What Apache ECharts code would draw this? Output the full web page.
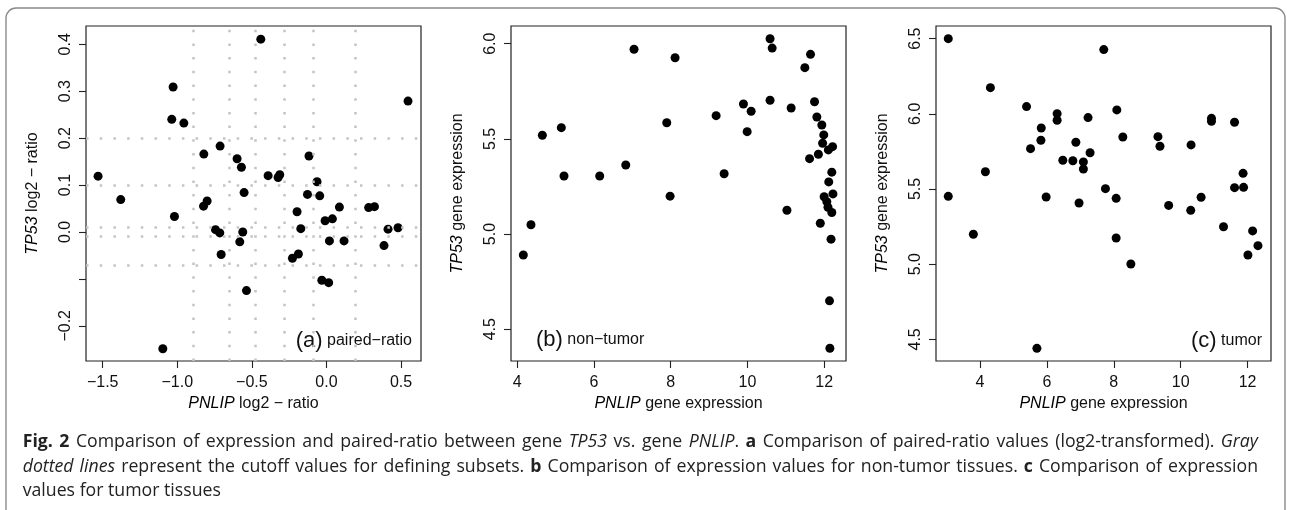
<!DOCTYPE html>
<html>
<head>
<meta charset="utf-8">
<script src="https://cdn.jsdelivr.net/npm/echarts@6/dist/echarts.min.js"></script>
<style>
html,body{margin:0;padding:0;background:#fff;}
#chart{width:1292px;height:510px;}
</style>
</head>
<body>
<div id="chart"></div>
<script>
// ---- Panel (a): paired-ratio (log2) ----
var aX = [-0.44, -1.028, 0.547, -1.037, -0.956, -0.713, -0.822, -0.599, -0.570, -0.117, -1.531, -0.391, -0.324, -0.313, -0.063, -0.552, -0.127, -0.045, -1.379, -0.800, -0.824, -1.019, 0.087, -0.197, 0.283, 0.322, -0.009, 0.040, -0.744, -0.715, -0.561, -0.172, 0.413, 0.480, -0.581, 0.020, 0.118, 0.386, -0.706, -0.228, -0.188, -0.031, 0.015, -0.536, -1.097];
var aY = [0.411, 0.309, 0.279, 0.240, 0.232, 0.183, 0.166, 0.156, 0.138, 0.162, 0.119, 0.120, 0.116, 0.122, 0.107, 0.084, 0.080, 0.077, 0.069, 0.066, 0.055, 0.033, 0.053, 0.043, 0.052, 0.054, 0.024, 0.028, 0.005, -0.002, 0.000, 0.007, 0.006, 0.009, -0.021, -0.019, -0.019, -0.029, -0.048, -0.056, -0.047, -0.103, -0.108, -0.125, -0.249];
var aVCut = [-0.889, -0.648, -0.478, -0.277, -0.085, 0.194];
var aHCut = [0.2, 0.1, 0.015, -0.015, -0.075];
var aXTicks = [-1.5, -1.0, -0.5, 0.0, 0.5];
var aYTicks = [-0.2, -0.1, 0.0, 0.1, 0.2, 0.3, 0.4];
var aYLabels = [-0.2, 0.0, 0.1, 0.2, 0.3, 0.4];
var aXRange = [-1.612, 0.634];
var aYRange = [-0.275, 0.439];

// ---- Panel (b): non-tumor expression ----
var bX = [10.59, 10.645, 7.044, 8.114, 11.645, 11.497, 10.59, 11.75, 9.896, 10.097, 11.14, 9.184, 11.81, 5.148, 7.897, 11.94, 4.653, 11.99, 9.993, 11.96, 12.11, 12.22, 11.85, 11.62, 6.828, 5.218, 6.149, 9.393, 12.20, 12.12, 7.984, 12.23, 12.00, 12.07, 12.10, 12.20, 11.03, 11.90, 4.357, 12.18, 4.157, 12.14, 12.15];
var bY = [6.026, 5.977, 5.971, 5.926, 5.944, 5.874, 5.703, 5.695, 5.683, 5.645, 5.662, 5.622, 5.615, 5.559, 5.585, 5.573, 5.519, 5.521, 5.538, 5.477, 5.442, 5.459, 5.419, 5.396, 5.363, 5.305, 5.305, 5.317, 5.325, 5.274, 5.199, 5.211, 5.196, 5.170, 5.141, 5.113, 5.125, 5.057, 5.049, 4.973, 4.890, 4.649, 4.400];
var bXTicks = [4, 6, 8, 10, 12];
var bYTicks = [4.5, 5.0, 5.5, 6.0];
var bXRange = [3.836, 12.57];
var bYRange = [4.333, 6.093];

// ---- Panel (c): tumor expression ----
var cX = [3.05, 7.70, 4.31, 5.39, 8.09, 6.305, 6.305, 7.23, 10.92, 10.92, 11.61, 5.83, 8.27, 9.32, 9.38, 5.82, 6.865, 10.31, 5.51, 7.29, 6.475, 6.775, 7.09, 7.09, 4.16, 11.865, 7.75, 11.61, 11.88, 3.05, 5.976, 8.07, 6.96, 10.61, 9.64, 10.30, 3.80, 8.07, 11.28, 12.15, 12.31, 12.01, 8.51, 5.70];
var cY = [6.50, 6.427, 6.174, 6.048, 6.026, 6.001, 5.957, 5.975, 5.970, 5.950, 5.944, 5.906, 5.846, 5.848, 5.784, 5.824, 5.811, 5.793, 5.768, 5.741, 5.691, 5.688, 5.680, 5.633, 5.615, 5.604, 5.502, 5.509, 5.511, 5.451, 5.447, 5.438, 5.407, 5.445, 5.391, 5.358, 5.199, 5.174, 5.249, 5.221, 5.123, 5.061, 5.001, 4.440];
var cXTicks = [4, 6, 8, 10, 12];
var cYTicks = [4.5, 5.0, 5.5, 6.0, 6.5];
var cXRange = [2.683, 12.70];
var cYRange = [4.356, 6.584];

// ---- Texts ----
var panelLabels = [['(a)', 'paired\u2212ratio'], ['(b)', 'non\u2212tumor'], ['(c)', 'tumor']];
var xNames = ['{i|PNLIP} log2 \u2212 ratio', '{i|PNLIP} gene expression', '{i|PNLIP} gene expression'];
var yNames = ['{i|TP53} log2 \u2212 ratio', '{i|TP53} gene expression', '{i|TP53} gene expression'];
var captionLines = [
  '{b|Fig. 2} Comparison of expression and paired-ratio between gene {i|TP53} vs. gene {i|PNLIP}. {b|a} Comparison of paired-ratio values (log2-transformed). {i|Gray}',
  '{i|dotted lines} represent the cutoff values for defining subsets. {b|b} Comparison of expression values for non-tumor tissues. {b|c} Comparison of expression',
  'values for tumor tissues'
];
var captionJustify = [true, true, false];

var FONT = '"Liberation Sans", Arial, Helvetica, sans-serif';
var CAPFONT = '"Open Sans", Lato, sans-serif';
var CAPSIZE = 17.7;
var CAP_X0 = 22.7, CAP_X1 = 1258, CAP_Y0 = 442, CAP_DY = 24.5;

function zip(xs, ys) { return xs.map(function (x, i) { return [x, ys[i]]; }); }
function fmt1(v) { return Number(v).toFixed(1).replace('-', '\u2212'); }
function fmt0(v) { return String(Math.round(v)); }

var grids = [
  {left: 86, top: 26, width: 335, height: 335},
  {left: 511, top: 26, width: 335, height: 335},
  {left: 936, top: 26, width: 335, height: 335}
].map(function (g) {
  return Object.assign(g, {show: true, borderColor: '#222', borderWidth: 1.2, backgroundColor: 'transparent'});
});

var nameRich = {
  i: {fontStyle: 'italic', fontSize: 16, fontFamily: FONT, color: '#000'}
};

function xAxisCfg(idx, range, ticks, labels, fmt, name) {
  return {
    gridIndex: idx, type: 'value', min: range[0], max: range[1], position: 'bottom',
    axisLine: {show: false, onZero: false},
    axisTick: {show: true, inside: false, length: 7, lineStyle: {color: '#222', width: 1.1}, customValues: ticks},
    axisLabel: {customValues: labels, formatter: fmt, fontSize: 16, fontFamily: FONT, color: '#111', margin: 14},
    splitLine: {show: false},
    name: name, nameLocation: 'middle', nameGap: 35,
    nameTextStyle: {fontSize: 16, fontFamily: FONT, color: '#111', rich: nameRich}
  };
}
function yAxisCfg(idx, range, ticks, labels, fmt, name) {
  return {
    gridIndex: idx, type: 'value', min: range[0], max: range[1], position: 'left',
    axisLine: {show: false, onZero: false},
    axisTick: {show: true, inside: false, length: 7, lineStyle: {color: '#222', width: 1.1}, customValues: ticks},
    axisLabel: {customValues: labels, formatter: fmt, rotate: 90, fontSize: 16, fontFamily: FONT, color: '#111', margin: 12},
    splitLine: {show: false},
    name: name, nameLocation: 'middle', nameRotate: 90, nameGap: 45,
    nameTextStyle: {fontSize: 16, fontFamily: FONT, color: '#111', rich: nameRich}
  };
}

var dotStyle = {color: '#000', opacity: 1};

var cutData = aVCut.map(function (v) { return {xAxis: v}; }).concat(aHCut.map(function (v) { return {yAxis: v}; }));

function panelLabel(k, x, y, align) {
  return {type: 'text', silent: true, x: x, y: y,
    style: {text: '{p|' + panelLabels[k][0] + '}{t| ' + panelLabels[k][1] + '}', align: align, verticalAlign: 'middle',
      rich: {p: {fontSize: 22, fontFamily: FONT, fill: '#111'}, t: {fontSize: 16, fontFamily: FONT, fill: '#111'}}}};
}

// ---- caption layout (justified like the journal page) ----
var mctx = document.createElement('canvas').getContext('2d');
function capFont(st) {
  return (st === 'i' ? 'italic ' : 'normal ') + (st === 'b' ? 'bold ' : 'normal ') + CAPSIZE + 'px ' + CAPFONT;
}
function measure(t, st) { mctx.font = capFont(st); return mctx.measureText(t).width; }
function parseLine(line) {
  var re = /\{(\w)\|([^}]*)\}|([^{]+)/g, m, segs = [];
  while ((m = re.exec(line))) {
    if (m[1]) segs.push({t: m[2], s: m[1]}); else segs.push({t: m[3], s: 'n'});
  }
  return segs;
}
function toWords(segs) {
  var ws = [[]];
  segs.forEach(function (sg) {
    sg.t.split(' ').forEach(function (p, i) {
      if (i > 0) ws.push([]);
      if (p) ws[ws.length - 1].push({t: p, s: sg.s});
    });
  });
  return ws.filter(function (w) { return w.length; });
}
function captionElements() {
  var els = [];
  var space = measure(' ', 'n');
  captionLines.forEach(function (line, k) {
    var words = toWords(parseLine(line));
    var widths = words.map(function (w) { return w.reduce(function (a, p) { return a + measure(p.t, p.s); }, 0); });
    var total = widths.reduce(function (a, b) { return a + b; }, 0);
    var gap = captionJustify[k] ? Math.max(space * 0.8, (CAP_X1 - CAP_X0 - total) / (words.length - 1)) : space;
    var x = CAP_X0, y = CAP_Y0 + k * CAP_DY;
    words.forEach(function (w, wi) {
      var px = x;
      w.forEach(function (p) {
        els.push({type: 'text', silent: true, x: px, y: y,
          style: {text: p.t, align: 'left', verticalAlign: 'middle', fontSize: CAPSIZE, fontFamily: CAPFONT,
            fontStyle: p.s === 'i' ? 'italic' : 'normal', fontWeight: p.s === 'b' ? 'bold' : 'normal', fill: '#222'}});
        px += measure(p.t, p.s);
      });
      x += widths[wi] + gap;
    });
  });
  return els;
}

var option = {
  backgroundColor: '#fff',
  animation: false,
  grid: grids,
  xAxis: [
    xAxisCfg(0, aXRange, aXTicks, aXTicks, fmt1, xNames[0]),
    xAxisCfg(1, bXRange, bXTicks, bXTicks, fmt0, xNames[1]),
    xAxisCfg(2, cXRange, cXTicks, cXTicks, fmt0, xNames[2])
  ],
  yAxis: [
    yAxisCfg(0, aYRange, aYTicks, aYLabels, fmt1, yNames[0]),
    yAxisCfg(1, bYRange, bYTicks, bYTicks, fmt1, yNames[1]),
    yAxisCfg(2, cYRange, cYTicks, cYTicks, fmt1, yNames[2])
  ],
  series: [
    {
      type: 'scatter', xAxisIndex: 0, yAxisIndex: 0, data: zip(aX, aY),
      symbol: 'circle', symbolSize: 9, itemStyle: dotStyle, silent: true,
      markLine: {
        silent: true, symbol: ['none', 'none'], label: {show: false},
        lineStyle: {color: '#c4c4c4', width: 2.5, type: [2.5, 11.2], opacity: 1},
        emphasis: {disabled: true},
        data: cutData
      }
    },
    {type: 'scatter', xAxisIndex: 1, yAxisIndex: 1, data: zip(bX, bY), symbol: 'circle', symbolSize: 9, itemStyle: dotStyle, silent: true},
    {type: 'scatter', xAxisIndex: 2, yAxisIndex: 2, data: zip(cX, cY), symbol: 'circle', symbolSize: 9, itemStyle: dotStyle, silent: true}
  ],
  graphic: [
    {type: 'rect', silent: true, shape: {x: 6, y: 8, width: 1279, height: 560, r: [10, 10, 0, 0]},
     style: {fill: 'none', stroke: '#8a8a8a', lineWidth: 1.4}},
    panelLabel(0, 412, 341, 'right'),
    panelLabel(1, 536, 340, 'left'),
    panelLabel(2, 1262, 341, 'right')
  ].concat(captionElements())
};

var chart = echarts.init(document.getElementById('chart'), null, {renderer: 'canvas'});
chart.setOption(option);
</script>
</body>
</html>
